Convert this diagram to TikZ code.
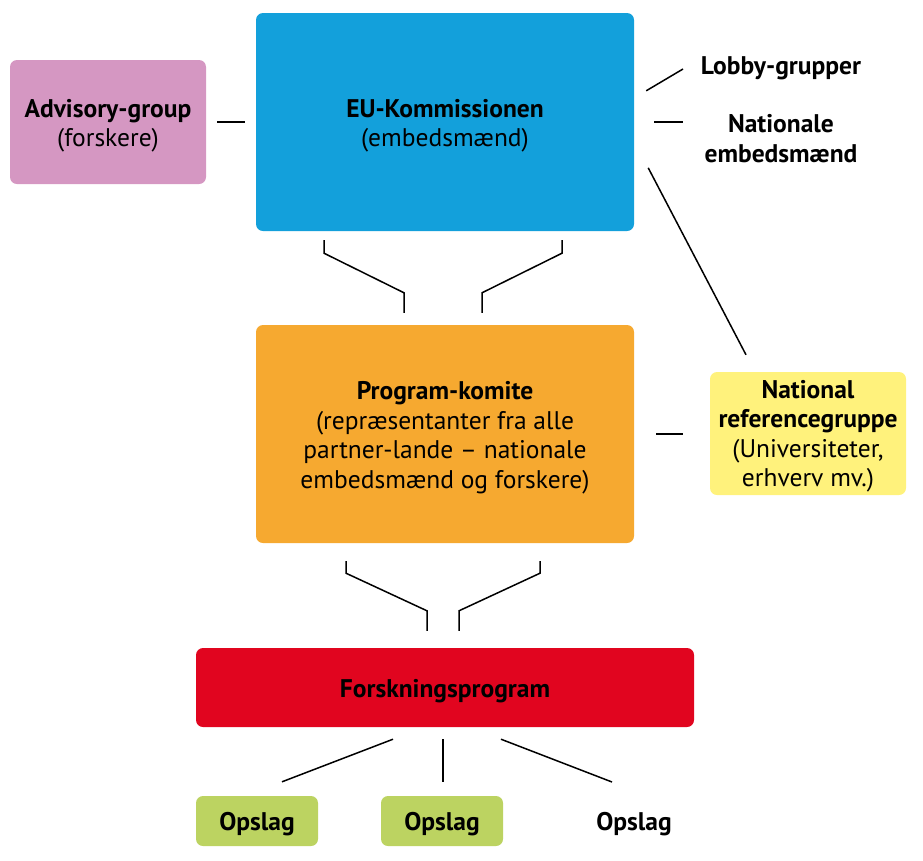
\documentclass[tikz,border=0pt]{standalone}
\usepackage{fontspec}
\setmainfont{PT Sans}
\usetikzlibrary{calc}
\definecolor{cblue}{HTML}{13A0DB}
\definecolor{cpink}{HTML}{D597C2}
\definecolor{corange}{HTML}{F6A930}
\definecolor{cyellow}{HTML}{FFF27C}
\definecolor{cred}{HTML}{E1051F}
\definecolor{cgreen}{HTML}{BCD361}
\tikzset{
  box/.style={rounded corners=7pt, draw=none, inner sep=0pt},
  lbl/.style={inner sep=0pt, align=center, text=black},
  conn/.style={draw=black, line width=1.5pt},
}
\begin{document}
\begin{tikzpicture}[x=1pt,y=-1pt, font=\fontsize{25.5}{29.5}\selectfont]
\useasboundingbox (0,0) rectangle (923,860);
% boxes
\node[box, fill=cpink, minimum width=196pt, minimum height=124pt] (adv) at (108,122) {};
\node[box, fill=cblue, minimum width=378pt, minimum height=218pt] (eu) at (445,122) {};
\node[box, fill=corange, minimum width=378pt, minimum height=218pt] (prog) at (445,434) {};
\node[box, fill=cyellow, minimum width=196pt, minimum height=123pt] (natref) at (808,433.5) {};
\node[box, fill=cred, minimum width=498pt, minimum height=79pt] (forsk) at (445,687.5) {};
\node[box, fill=cgreen, minimum width=122pt, minimum height=50pt] (op1) at (257,821) {};
\node[box, fill=cgreen, minimum width=122pt, minimum height=50pt] (op2) at (442,821) {};
% texts
\node[lbl] (advt) at ($(adv.center)+(0,3.5)$) {\textbf{Advisory-group}\\(forskere)};
\node[lbl] (eut) at ($(eu.center)+(0,3.5)$) {\textbf{EU-Kommissionen}\\(embedsmænd)};
\node[lbl] (progt) at ($(prog.center)+(0,3.5)$) {\textbf{Program-komite}\\(repræsentanter fra alle\\partner-lande – nationale\\embedsmænd og forskere)};
\node[lbl] (natreft) at ($(natref.center)+(0,2.5)$) {\textbf{National}\\\textbf{referencegruppe}\\(Universiteter,\\erhverv mv.)};
\node[lbl] (forskt) at ($(forsk.center)+(0,3.5)$) {\textbf{Forskningsprogram}};
\node[lbl] (op1t) at ($(op1.center)+(0,3)$) {\textbf{Opslag}};
\node[lbl] (op2t) at ($(op2.center)+(0,3)$) {\textbf{Opslag}};
\node[lbl] (lobby) at (781,68) {\textbf{Lobby-grupper}};
\node[lbl] (natemb) at (781,138.5) {\textbf{Nationale}\\\textbf{embedsmænd}};
\node[lbl] (op3) at (634,824) {\textbf{Opslag}};
% connectors
\draw[conn] ($(adv.east)+(11,0)$) -- ($(eu.west)+(-11,0)$);
\draw[conn] ($(eu.north east)+(12,78)$) -- ($(lobby.center)+(-98,1)$);
\draw[conn] ($(eu.east)+(20,0)$) -- ($(natemb.center)+(-98,-16.5)$);
\draw[conn] ($(eu.north east)+(14,155)$) -- ($(natref.north)+(-62,-17)$);
\draw[conn] ($(prog.east)+(22,0)$) -- ($(natref.west)+(-27,0.5)$);
% fork EU -> program
\draw[conn] ($(eu.south)+(-121,9)$) -- ++(0,13) -- ($(prog.north)+(-41,-32)$) -- ($(prog.north)+(-41,-12)$);
\draw[conn] ($(eu.south)+(117,9)$) -- ++(0,13) -- ($(prog.north)+(37,-32)$) -- ($(prog.north)+(37,-12)$);
% fork program -> forsk
\draw[conn] ($(prog.south)+(-99,18)$) -- ++(0,12) -- ($(forsk.north)+(-18,-37)$) -- ($(forsk.north)+(-18,-17)$);
\draw[conn] ($(prog.south)+(95,18)$) -- ++(0,12) -- ($(forsk.north)+(14,-37)$) -- ($(forsk.north)+(14,-17)$);
% forsk -> opslag
\draw[conn] ($(forsk.south)+(-52,12)$) -- ($(op1.north)+(25,-14)$);
\draw[conn] ($(forsk.south)+(-2,12)$) -- ($(op2.north)+(1,-14)$);
\draw[conn] ($(forsk.south)+(56,12)$) -- ($(op3.center)+(-22,-42)$);
\end{tikzpicture}
\end{document}
